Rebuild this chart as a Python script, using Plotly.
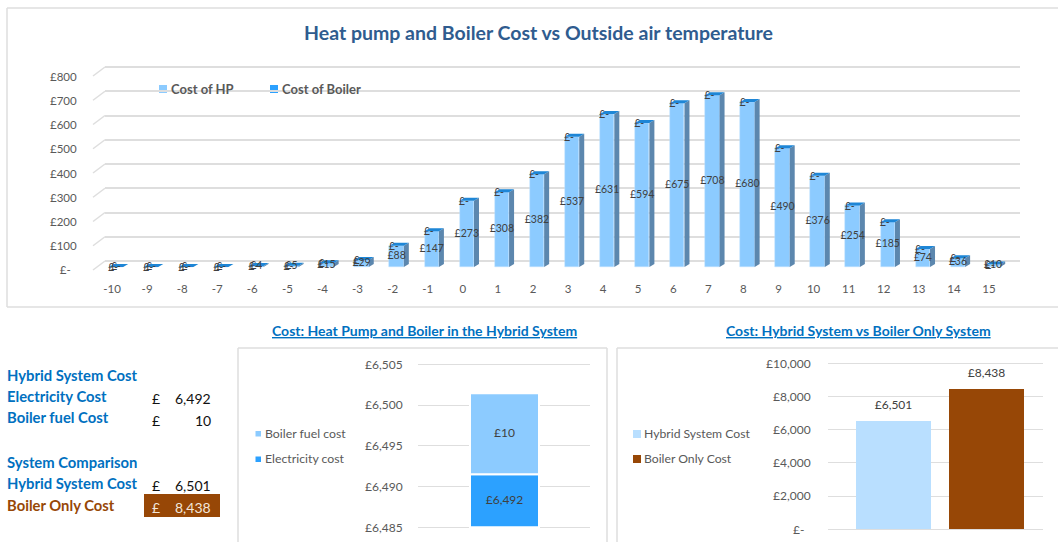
import plotly.graph_objects as go

# ---- data ----
temps = [-10,-9,-8,-7,-6,-5,-4,-3,-2,-1,0,1,2,3,4,5,6,7,8,9,10,11,12,13,14,15]
cost_hp = [0,0,0,0,4,5,15,29,88,147,273,308,382,537,631,594,675,708,680,490,376,254,185,74,36,10]
cost_boiler = [0]*26
top_ticks = [0,100,200,300,400,500,600,700,800]
hybrid_names = ["Electricity cost", "Boiler fuel cost"]
hybrid_vals = [6491.5, 10]
hybrid_labels = ["£6,492", "£10"]
hybrid_ticks = [6485,6490,6495,6500,6505]
compare_names = ["Hybrid System Cost", "Boiler Only Cost"]
compare_vals = [6501, 8438]
compare_ticks = [0,2000,4000,6000,8000,10000]

W, H = 1058, 542
FONT = "Lato"
GREY = "#595959"
DARK = "#404040"
GRID = "#DEDEDE"
BLUE = "#0070C0"
BROWN = "#974706"
HP_C, BOIL_C, SIDE_C, TOP_C = "#8CCBFF", "#2CA1FF", "#5C87AE", "#1E86D6"

px = lambda x: x / W
py = lambda y: 1 - y / H
def money(v):
    return "£-" if v == 0 else f"£{v:,.0f}"

fig = go.Figure()

# ---- top chart geometry ----
X_L, X_R = 105, 1020
STEP = 35.08
C0 = 116                      # pixel of first bar centre
rng_x = [-10 + (X_L - C0) / STEP, -10 + (X_R - C0) / STEP]
PER_UNIT = 0.2425
half = 0.205
dx = 5 / STEP
dy = 3 / PER_UNIT
BASE_PX = 267                 # floor of the bars
WALL_SHIFT = 6 / PER_UNIT     # back wall sits 6px above the bar floor

# invisible carrier so the label axes are drawn
fig.add_trace(go.Scatter(x=temps, y=cost_hp, mode="markers", marker=dict(opacity=0), showlegend=False,
                         hoverinfo="skip", xaxis="x2", yaxis="y3"))

fig.add_trace(go.Bar(x=temps, y=cost_hp, width=half*2, marker=dict(color=HP_C, line=dict(color="#BFE2FF", width=0.5)),
                     name="Cost of HP", xaxis="x", yaxis="y", showlegend=False))
fig.add_trace(go.Bar(x=temps, y=cost_boiler, width=half*2, marker=dict(color=BOIL_C, line=dict(width=0)),
                     name="Cost of Boiler", xaxis="x", yaxis="y", showlegend=False))
sx, sy, tx, ty = [], [], [], []
for t, a, b in zip(temps, cost_hp, cost_boiler):
    v = a + b
    sx += [t+half, t+half+dx, t+half+dx, t+half, None]
    sy += [0, dy, v+dy, v, None]
    tx += [t-half, t-half+dx, t+half+dx, t+half, None]
    ty += [v, v+dy, v+dy, v, None]
for xs, ys, c, n in ((sx, sy, SIDE_C, "HP side"), (tx, ty, TOP_C, "Boiler top")):
    fig.add_trace(go.Scatter(x=xs, y=ys, fill="toself", mode="lines", line=dict(width=0), fillcolor=c,
                             hoverinfo="skip", showlegend=False, name=n, xaxis="x", yaxis="y", cliponaxis=False))
fig.add_trace(go.Scatter(x=temps, y=[v/2 for v in cost_hp], mode="text", text=[money(v) for v in cost_hp],
                         textfont=dict(family=FONT, size=10.5, color=DARK), showlegend=False, hoverinfo="skip",
                         xaxis="x", yaxis="y", cliponaxis=False))
fig.add_trace(go.Scatter(x=[t - 3/STEP for t in temps],
                         y=[a + b - 1.5/PER_UNIT for a, b in zip(cost_hp, cost_boiler)], mode="text",
                         text=[money(v) for v in cost_boiler], textfont=dict(family=FONT, size=10.5, color=DARK),
                         showlegend=False, hoverinfo="skip", xaxis="x", yaxis="y", cliponaxis=False))

# ---- middle chart ----
mid_centre = [0]
fig.add_trace(go.Bar(x=mid_centre, y=[hybrid_vals[0] - hybrid_ticks[0]], base=[hybrid_ticks[0]], width=[1],
                     name=hybrid_names[0], xaxis="x4", yaxis="y4", offsetgroup="e",
                     marker=dict(color=BOIL_C, line=dict(color="white", width=2)), showlegend=False))
fig.add_trace(go.Bar(x=mid_centre, y=[hybrid_vals[1]], base=[hybrid_vals[0]], width=[1],
                     name=hybrid_names[1], xaxis="x4", yaxis="y4", offsetgroup="e",
                     marker=dict(color=HP_C, line=dict(color="white", width=2)), showlegend=False))
fig.add_trace(go.Scatter(x=mid_centre*2,
                         y=[(hybrid_ticks[0]+hybrid_vals[0])/2, hybrid_vals[0]+hybrid_vals[1]/2],
                         mode="text", text=hybrid_labels, textfont=dict(family=FONT, size=12, color=DARK),
                         showlegend=False, hoverinfo="skip", xaxis="x4", yaxis="y4"))

# ---- right chart ----
pos = [0, 1]
R_TOP, R_BOT = 363.3, 529.3
R_UNIT = (R_BOT - R_TOP) / compare_ticks[-1]
fig.add_trace(go.Bar(x=pos, y=compare_vals, width=75/93, xaxis="x5", yaxis="y5", showlegend=False,
                     marker=dict(color=["#B9DFFF", BROWN], line=dict(width=0)),
                     hovertext=compare_names, hoverinfo="text+y"))
fig.add_trace(go.Scatter(x=pos, y=[v + 15/R_UNIT for v in compare_vals], mode="text", text=[money(v) for v in compare_vals],
                         textfont=dict(family=FONT, size=12, color=DARK),
                         showlegend=False, hoverinfo="skip", xaxis="x5", yaxis="y5", cliponaxis=False))

# ---- text helpers ----
ann, shp = [], []
def text(x, y, s, size=12, color=GREY, bold=False, anchor="left"):
    ann.append(dict(x=px(x), y=py(y), xref="paper", yref="paper", xanchor=anchor, yanchor="middle", showarrow=False,
                    text=f"<b>{s}</b>" if bold else s, font=dict(family=FONT, size=size, color=color),
                    borderpad=0, borderwidth=0))
def rect(x0, y0, x1, y1, color):
    shp.append(dict(type="rect", xref="paper", yref="paper", x0=px(x0), x1=px(x1), y0=py(y0), y1=py(y1),
                    fillcolor=color, line=dict(width=0), layer="below"))
def line(pts, color=GRID, width=1.5):
    for (a, b), (c, d) in zip(pts, pts[1:]):
        shp.append(dict(type="line", xref="paper", yref="paper", x0=px(a), x1=px(c), y0=py(b), y1=py(d),
                        line=dict(color=color, width=width), layer="below"))

# frames
line([(1058, 307), (7, 307), (7, 8), (1058, 8)])
line([(238, 542), (238, 348), (607, 348), (607, 542)])
line([(617, 542), (617, 348), (1058, 348)])

# stubs joining the front of the chart to its back wall
for v in top_ticks:
    yb = 261 - v * PER_UNIT
    line([(93, yb + 9), (X_L, yb)], width=1.5)

text(538, 33, "Heat pump and Boiler Cost vs Outside air temperature", 19.5, "#2F5C8F", True, "center")
rect(159, 85, 167, 93, HP_C); text(171, 89, "Cost of HP", 13, GREY, True)
rect(270, 85, 278, 93, BOIL_C); text(282, 89, "Cost of Boiler", 13, GREY, True)

text(424, 330, "<u>Cost: Heat Pump and Boiler in the Hybrid System</u>", 14, BLUE, True, "center")
text(858, 330, "<u>Cost: Hybrid System vs Boiler Only System</u>", 14, BLUE, True, "center")

rect(255.5, 431, 261, 436.5, HP_C); text(265, 433.5, hybrid_names[1], 12.3)
rect(255.5, 456.5, 261, 462, BOIL_C); text(265, 458.5, hybrid_names[0], 12.3)
rect(633, 430, 641, 438, "#B9DFFF"); text(644, 433.5, compare_names[0], 12.2)
rect(633, 455, 641, 463, BROWN); text(644, 458.5, compare_names[1], 12.2)

# side table
for y, s, c in ((374.5, "Hybrid System Cost", BLUE), (395.5, "Electricity Cost", BLUE), (417.5, "Boiler fuel Cost", BLUE),
                (461.5, "System Comparison", BLUE), (482.5, "Hybrid System Cost", BLUE), (504.5, "Boiler Only Cost", BROWN)):
    text(7, y, s, 14.8, c, True)
rect(144, 494, 220, 517, BROWN)
for y, s, c in ((398, "6,492", "#111111"), (420, "10", "#111111"), (485, "6,501", "#111111"), (507, "8,438", "#F2E6DA")):
    text(152, y, "£", 14, c)
    text(211, y, s, 14, c, False, "right")

SPARE = 4
def axis_span(top, bottom, lo, hi):
    """Domain and range with spare pixels each side so the end gridlines are kept."""
    unit = (hi - lo) / (bottom - top)
    return dict(domain=[py(bottom + SPARE), py(top - SPARE)], range=[lo - SPARE*unit, hi + SPARE*unit])

tf = dict(family=FONT, size=11.5, color=GREY)
layout = dict(
    width=W, height=H, margin=dict(l=0, r=0, t=0, b=0, autoexpand=False), autosize=False,
    paper_bgcolor="white", plot_bgcolor="rgba(0,0,0,0)", barmode="overlay", bargap=0, showlegend=False,
    annotations=ann, shapes=shp, font=dict(family=FONT),
    # top chart: bars and back-wall gridlines share one axis, wall ticks lifted by its depth
    xaxis=dict(visible=False, domain=[px(X_L), px(X_R)], range=rng_x, anchor="y"),
    yaxis=dict(**axis_span(BASE_PX - 800*PER_UNIT - 6, BASE_PX, 0, 800 + WALL_SHIFT), anchor="x",
               tickvals=[v + WALL_SHIFT for v in top_ticks], showticklabels=False,
               showgrid=True, gridcolor=GRID, gridwidth=1.5, zeroline=False, showline=False, ticks=""),
    xaxis2=dict(domain=[px(X_L), px(X_R)], range=[r + 4/STEP for r in rng_x], anchor="free", position=py(280),
                tickvals=temps, ticktext=[str(t) for t in temps], tickfont=tf, showgrid=False, zeroline=False,
                showline=False, ticks="", side="bottom"),
    yaxis3=dict(domain=[py(270), py(77)], range=[0, 800], anchor="free", position=px(84), side="left",
                tickvals=top_ticks, ticktext=["£-\u00a0\u00a0"] + [f"£{v}" for v in top_ticks[1:]], tickfont=tf,
                showgrid=False, zeroline=False, showline=False, ticks="outside", ticklen=5, tickcolor="rgba(0,0,0,0)"),
    # middle chart
    xaxis4=dict(visible=False, domain=[px(418), px(590)], range=[(418-504.5)/69, (590-504.5)/69], anchor="y4"),
    yaxis4=dict(**axis_span(364.3, 527.3, 6485, 6505), anchor="x4", tickvals=hybrid_ticks,
                ticktext=[f"£{v:,}" for v in hybrid_ticks], tickfont=dict(family=FONT, size=12, color=GREY),
                showgrid=True, gridcolor=GRID, gridwidth=1, zeroline=False, showline=False, ticks="outside",
                ticklen=12, tickcolor="rgba(0,0,0,0)"),
    # right chart
    xaxis5=dict(visible=False, domain=[px(828), px(1043)], range=[(828-893.5)/93, (1043-893.5)/93], anchor="y5"),
    yaxis5=dict(**axis_span(R_TOP, R_BOT, 0, compare_ticks[-1]), anchor="x5", tickvals=compare_ticks,
                ticktext=["£-\u00a0\u00a0"] + [f"£{v:,}" for v in compare_ticks[1:]],
                tickfont=dict(family=FONT, size=12, color=GREY), showgrid=True, gridcolor=GRID, gridwidth=1,
                zeroline=False, showline=False, ticks="outside", ticklen=14, tickcolor="rgba(0,0,0,0)"),
)
fig.update_layout(**layout)
fig.write_html("out.html", config=dict(displayModeBar=False),
               post_script="document.body.style.margin='0';document.body.style.overflow='hidden';")
